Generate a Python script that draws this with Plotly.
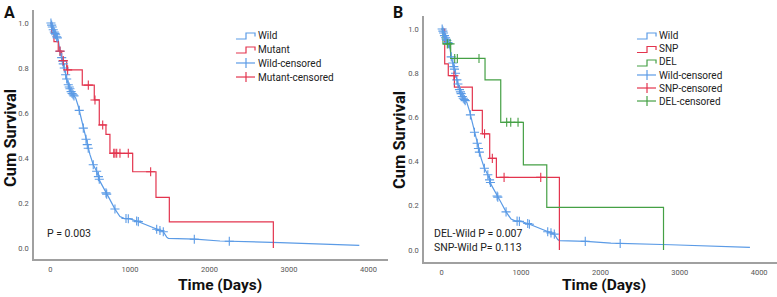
import numpy as np
import plotly.graph_objects as go

# ---------------- data ----------------
wild_t = [0, 6, 35, 65, 98, 120, 148, 174, 195, 224, 267, 317, 350, 384, 413, 443, 468, 497, 538, 581,
          623, 686, 748, 811, 874, 925, 1000, 1084, 1210, 1336, 1419, 1462, 1482, 1820, 2132, 2887,
          3670, 3884]
wild_s = [1.0, 1.0, 0.97, 0.948, 0.926, 0.874, 0.837, 0.80, 0.763, 0.726, 0.689, 0.667, 0.63, 0.578,
          0.533, 0.489, 0.452, 0.415, 0.37, 0.341, 0.296, 0.252, 0.215, 0.173, 0.14, 0.132, 0.129,
          0.12, 0.102, 0.083, 0.072, 0.048, 0.043, 0.039, 0.031, 0.024, 0.012, 0.012]
wild_cens = [6, 15, 23, 35, 48, 57, 65, 78, 86, 120, 141, 153, 161, 174, 191, 204, 224, 236, 245, 260,
             272, 285, 296, 362, 413, 447, 463, 475, 538, 581, 603, 614, 698, 707, 811, 950, 979, 1084,
             1105, 1336, 1377, 1419, 1809, 2249]

mut_t = [0, 15, 44, 98, 141, 204, 400, 551, 614, 698, 748, 1034, 1327, 1495, 2803]
mut_s = [1.0, 0.958, 0.917, 0.875, 0.833, 0.792, 0.724, 0.658, 0.547, 0.505, 0.421, 0.339, 0.225, 0.116, 0.0]
mut_cens = [120, 161, 216, 476, 560, 657, 796, 811, 833, 874, 979, 1260]

snp_t = [0, 38, 83, 160, 386, 512, 605, 689, 1483]
snp_s = [1.0, 0.842, 0.789, 0.737, 0.632, 0.526, 0.415, 0.329, 0.0]
snp_cens = [154, 540, 638, 786, 1248]

del_t = [0, 16, 113, 546, 744, 1029, 1324, 2795]
del_s = [1.0, 0.933, 0.867, 0.770, 0.578, 0.385, 0.193, 0.0]
del_cens = [71, 105, 164, 197, 470, 819, 870, 962]

x_ticks = [0, 1000, 2000, 3000, 4000]
y_ticks = [0.0, 0.2, 0.4, 0.6, 0.8, 1.0]

legend_a = ['Wild', 'Mutant', 'Wild-censored', 'Mutant-censored']
legend_b = ['Wild', 'SNP', 'DEL', 'Wild-censored', 'SNP-censored', 'DEL-censored']

BLUE = '#5b9be6'
RED = '#e3344e'
GREEN = '#45a045'
FONT = 'Roboto'
W, H = 777, 297


def step_at(ts, ss, t):
    idx = np.searchsorted(np.asarray(ts), t, side='right') - 1
    return np.asarray(ss)[idx]


fig = go.Figure()


def add_curve(ts, ss, name, color, xa, ya, shape='hv'):
    fig.add_trace(go.Scatter(x=ts, y=ss, mode='lines', line_shape=shape, name=name,
                             line=dict(color=color, width=1.2), xaxis=xa, yaxis=ya))


def add_cens(ys, cens, name, color, xa, ya):
    fig.add_trace(go.Scatter(x=cens, y=ys, mode='markers', name=name,
                             marker=dict(symbol='cross-thin', size=6.5, color=color,
                                         line=dict(width=1.1, color=color)),
                             xaxis=xa, yaxis=ya))


wild_cy = np.interp(wild_cens, wild_t, wild_s)
# Panel A
add_curve(wild_t, wild_s, 'Wild', BLUE, 'x', 'y', shape='linear')
add_curve(mut_t, mut_s, 'Mutant', RED, 'x', 'y')
add_cens(wild_cy, wild_cens, 'Wild-censored', BLUE, 'x', 'y')
add_cens(step_at(mut_t, mut_s, mut_cens), mut_cens, 'Mutant-censored', RED, 'x', 'y')

# Panel B
add_curve(wild_t, wild_s, 'Wild', BLUE, 'x2', 'y2', shape='linear')
add_curve(snp_t, snp_s, 'SNP', RED, 'x2', 'y2')
add_curve(del_t, del_s, 'DEL', GREEN, 'x2', 'y2')
add_cens(wild_cy, wild_cens, 'Wild-censored', BLUE, 'x2', 'y2')
add_cens(step_at(snp_t, snp_s, snp_cens), snp_cens, 'SNP-censored', RED, 'x2', 'y2')
add_cens(step_at(del_t, del_s, del_cens), del_cens, 'DEL-censored', GREEN, 'x2', 'y2')

axis_common = dict(showgrid=False, zeroline=False, showline=True, linecolor='#a0a0a0', linewidth=1.5,
                   ticks='', ticklen=0, automargin=False,
                   tickfont=dict(family=FONT, size=7.5, color='#555555'))

fig.update_layout(
    template='none',
    width=W, height=H, margin=dict(l=0, r=0, t=0, b=0, pad=0),
    paper_bgcolor='white', plot_bgcolor='white', showlegend=False,
    font=dict(family=FONT, color='#222222'),
    xaxis=dict(domain=[34 / W, 388 / W], range=[-207, 4245], tickvals=x_ticks,
               ticktext=[str(v) for v in x_ticks], anchor='y', ticklabelstandoff=2, **axis_common),
    yaxis=dict(domain=[(H - 259) / H, (H - 10) / H], range=[-0.049, 1.058], tickvals=y_ticks,
               ticktext=['%.1f' % v for v in y_ticks], anchor='x', ticklabelstandoff=2, **axis_common),
    xaxis2=dict(domain=[424 / W, 1.0], range=[-223, 4225], tickvals=x_ticks,
                ticktext=[str(v) for v in x_ticks], anchor='y2', ticklabelstandoff=2, **axis_common),
    yaxis2=dict(domain=[(H - 262) / H, (H - 16) / H], range=[-0.054, 1.059], tickvals=y_ticks,
                ticktext=['%.1f' % v for v in y_ticks], anchor='x2', ticklabelstandoff=2, **axis_common),
)


def px(x):
    return x / W


def py(y):
    return 1 - y / H


ann = []
shapes = []


def text(s, x, y, size, xanchor='left', bold=False, angle=0, color='#222222'):
    ann.append(dict(text=('<b>%s</b>' % s) if bold else s, x=px(x), y=py(y), xref='paper', yref='paper',
                    showarrow=False, xanchor=xanchor, yanchor='middle', textangle=angle,
                    borderpad=0, font=dict(family=FONT, size=size, color=color)))


def seg(pts, color):
    path = 'M ' + ' L '.join('%.4f,%.4f' % (px(a), py(b)) for a, b in pts)
    shapes.append(dict(type='path', path=path, xref='paper', yref='paper',
                       line=dict(color=color, width=1.2)))


def legend(labels, colors, x0, rows):
    for lab, col, yc in zip(labels, colors, rows):
        if lab.endswith('censored'):
            seg([(x0, yc), (x0 + 19, yc)], col)
            seg([(x0 + 10, yc - 5), (x0 + 10, yc + 5)], col)
        else:
            seg([(x0, yc + 4), (x0 + 10, yc + 4), (x0 + 10, yc - 2), (x0 + 19, yc - 2), (x0 + 19, yc + 1.5)], col)
        text(lab, x0 + 21, yc, 10)


legend(legend_a, [BLUE, RED, BLUE, RED], 236, [35, 49, 63, 77])
legend(legend_b, [BLUE, RED, GREEN, BLUE, RED, GREEN], 637, [35, 48.5, 62, 75, 88, 101])

text('A', 3, 12, 16, bold=True, color='#111111')
text('B', 392, 12, 16, bold=True, color='#111111')
text('Cum Survival', 10, 138, 16.5, xanchor='center', bold=True, angle=-90, color='#111111')
text('Cum Survival', 399, 140, 16.5, xanchor='center', bold=True, angle=-90, color='#111111')
text('Time (Days)', 220, 285, 15.5, xanchor='center', bold=True, color='#111111')
text('Time (Days)', 604, 285, 15.5, xanchor='center', bold=True, color='#111111')
text('P = 0.003', 46, 233, 10.5)
text('DEL-Wild P = 0.007', 433, 233, 10.5)
text('SNP-Wild P= 0.113', 433, 247, 10.5)

fig.update_layout(annotations=ann, shapes=shapes)
fig.write_html('out.html', config={'displayModeBar': False},
               post_script="document.body.style.margin='0';document.body.style.padding='0';"
                           "document.body.style.overflow='hidden';")
